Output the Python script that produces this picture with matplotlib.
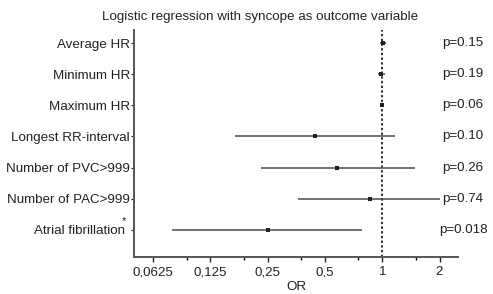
import matplotlib
matplotlib.use("Agg")
import matplotlib.pyplot as plt
import numpy as np
from matplotlib.ticker import FixedLocator, NullFormatter
from matplotlib.transforms import blended_transform_factory, ScaledTranslation

plt.rcParams['font.family'] = ['Liberation Sans', 'DejaVu Sans']

labels = ["Average HR", "Minimum HR", "Maximum HR", "Longest RR-interval",
          "Number of PVC>999", "Number of PAC>999", "Atrial fibrillation"]
odds = [1.01, 0.99, 1.00, 0.445, 0.58, 0.86, 0.25]
ci_low = [0.976, 0.95, 0.99, 0.169, 0.23, 0.36, 0.079]
ci_high = [1.04, 1.03, 1.02, 1.16, 1.48, 2.02, 0.78]
pvals = ["p=0.15", "p=0.19", "p=0.06", "p=0.10", "p=0.26", "p=0.74", "p=0.018"]
xticks = [0.0625, 0.125, 0.25, 0.5, 1, 2]
xticklabels = ["0,0625", "0,125", "0,25", "0,5", "1", "2"]

W, H = 493, 294
FS = 9.6
fig = plt.figure(figsize=(W/100, H/100), dpi=100)
ax = fig.add_axes([134/W, 1-257/H, (458-134)/W, (257-30)/H])

y = np.arange(len(labels))
odds_a = np.array(odds)
err = np.vstack([odds_a - np.array(ci_low), np.array(ci_high) - odds_a])
ax.errorbar(odds, y, xerr=err, fmt='s', color='#222222', ecolor='#4a4a4a',
            elinewidth=1.1, capsize=3.5, capthick=1.1, markersize=2.6,
            markeredgewidth=0)

ax.axvline(1, color='#222222', linestyle=(0, (1.3, 1.3)), linewidth=1.3, zorder=0)

ax.set_xscale('log')
ax.set_xlim(0.0496, 2.5)
ax.set_ylim(len(labels) - 1 + 0.87, -0.42)
ax.set_xticks(xticks)
ax.set_xticklabels(xticklabels)
ax.xaxis.set_minor_locator(FixedLocator([t * 1.5 for t in xticks]))
ax.xaxis.set_minor_formatter(NullFormatter())
ax.set_yticks(y)
ax.set_yticklabels(labels)
ax.tick_params(axis='y', length=2, width=0.8, pad=1, labelsize=FS, colors='#222222')
ax.tick_params(axis='x', which='major', length=3.5, width=1.0, pad=3, labelsize=FS,
               colors='#222222')
ax.tick_params(axis='x', which='minor', length=2.5, width=1.0)
for s in ['top', 'right']:
    ax.spines[s].set_visible(False)
for s in ['left', 'bottom']:
    ax.spines[s].set_linewidth(1.4)
    ax.spines[s].set_color('#555555')

# shift last label to leave room for the asterisk
last = ax.get_yticklabels()[-1]
last.set_transform(last.get_transform() + ScaledTranslation(-5/100, 0, fig.dpi_scale_trans))
fig.text(123.5/W, 1-221/H, "*", ha='center', va='center', fontsize=8, color='#222222')

tr = blended_transform_factory(fig.transFigure, ax.transData)
for yi, p in zip(y, pvals):
    ax.text(463/W, yi, p, transform=tr, ha='center', va='center',
            fontsize=FS, color='#222222')

ax.set_xlabel("OR", fontsize=FS, labelpad=2, color='#222222')
fig.text(260/W, 1-17/H, "Logistic regression with syncope as outcome variable",
         ha='center', va='center', fontsize=FS, color='#222222')

fig.savefig("out.png", dpi=100)
